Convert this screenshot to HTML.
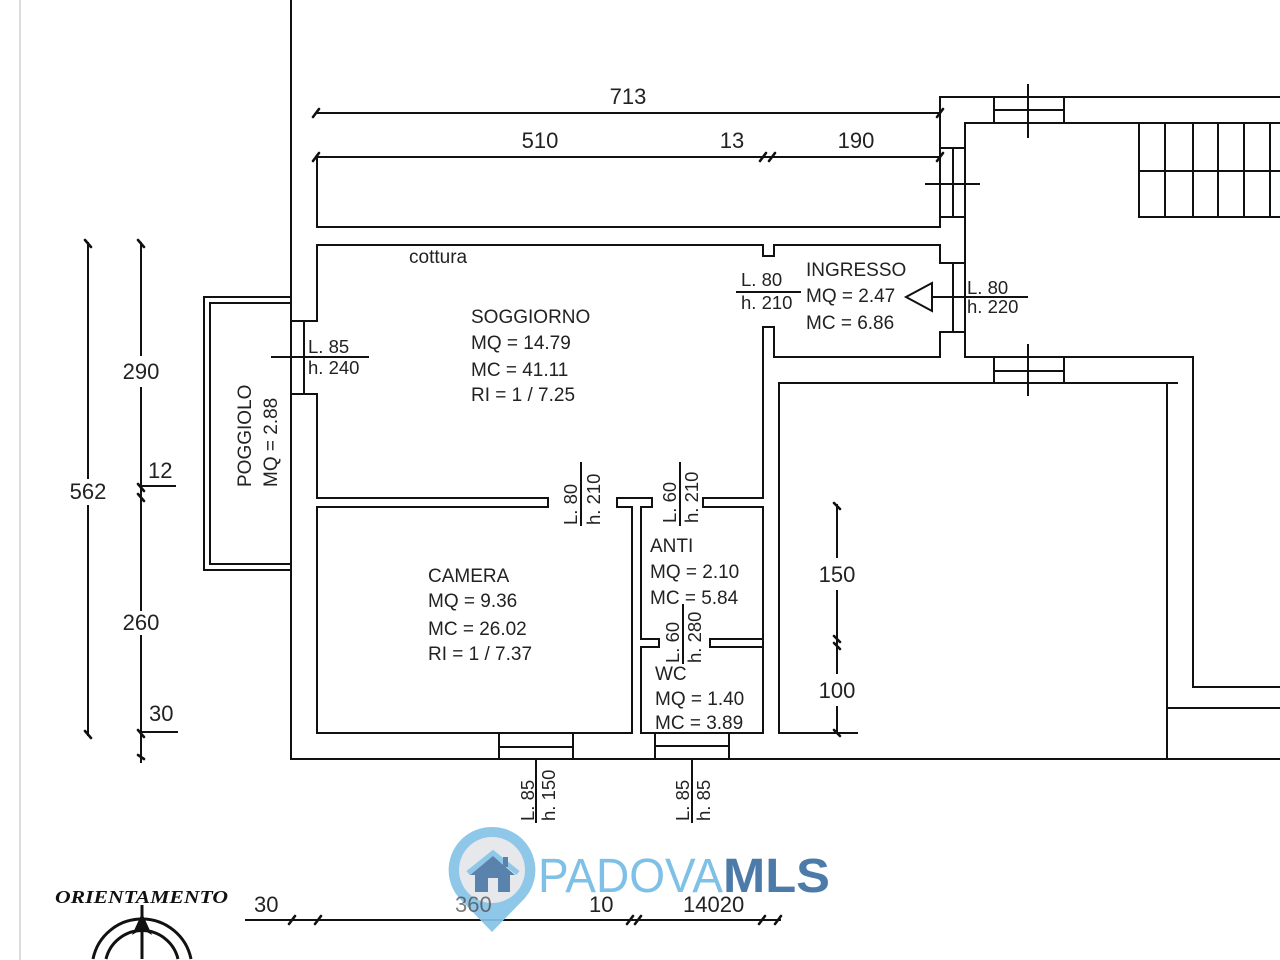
<!DOCTYPE html>
<html>
<head>
<meta charset="utf-8">
<style>
html,body{margin:0;padding:0;background:#fff;width:1280px;height:960px;overflow:hidden;}
svg{display:block;}
text{font-family:"Liberation Sans",sans-serif;fill:#222;}
</style>
</head>
<body>
<svg width="1280" height="960" viewBox="0 0 1280 960" xmlns="http://www.w3.org/2000/svg">
<rect width="1280" height="960" fill="#fff"/>
<line x1="20" y1="0" x2="20" y2="960" stroke="#dcdcdc" stroke-width="2"/>

<g stroke="#111" stroke-width="2" fill="none" stroke-linecap="square">
  <line x1="291" y1="0" x2="291" y2="759"/>
  <line x1="291" y1="759" x2="1280" y2="759"/>
  <line x1="316" y1="113" x2="940" y2="113"/>
  <line x1="316" y1="157" x2="940" y2="157"/>
  <polyline points="317,157 317,227 940,227"/>
  <line x1="940" y1="97" x2="940" y2="227"/>
  <line x1="940" y1="97" x2="1280" y2="97"/>
  <line x1="994" y1="97" x2="994" y2="123"/>
  <line x1="1064" y1="97" x2="1064" y2="123"/>
  <line x1="994" y1="110" x2="1064" y2="110"/>
  <line x1="1028" y1="85" x2="1028" y2="137"/>
  <line x1="965" y1="123" x2="1280" y2="123"/>
  <line x1="965" y1="123" x2="965" y2="357"/>
  <line x1="1139" y1="123" x2="1139" y2="217"/>
  <line x1="1139" y1="217" x2="1280" y2="217"/>
  <line x1="1139" y1="171" x2="1280" y2="171"/>
  <line x1="1165" y1="123" x2="1165" y2="217"/>
  <line x1="1193" y1="123" x2="1193" y2="217"/>
  <line x1="1218" y1="123" x2="1218" y2="217"/>
  <line x1="1244" y1="123" x2="1244" y2="217"/>
  <line x1="1270" y1="123" x2="1270" y2="217"/>
  <line x1="953" y1="148" x2="953" y2="217"/>
  <line x1="940" y1="148" x2="965" y2="148"/>
  <line x1="940" y1="217" x2="965" y2="217"/>
  <line x1="926" y1="184" x2="979" y2="184"/>
  <polyline points="317,321 317,245 763,245 763,256 774,256 774,245 940,245 940,263 965,263"/>
  <line x1="953" y1="263" x2="953" y2="332"/>
  <polyline points="965,332 940,332 940,357 774,357 774,327 763,327 763,498 703,498 703,507 763,507 763,733 641,733 641,647 659,647 659,639 641,639 641,507 652,507 652,498 617,498 617,507 632,507 632,733 317,733 317,507 548,507 548,498 317,498 317,394 291,394"/>
  <line x1="291" y1="321" x2="317" y2="321"/>
  <line x1="304" y1="321" x2="304" y2="394"/>
  <line x1="272" y1="357" x2="368" y2="357"/>
  <polyline points="763,639 710,639 710,647 763,647"/>
  <polyline points="857,733 779,733 779,383 1177,383"/>
  <line x1="1167" y1="383" x2="1167" y2="759"/>
  <line x1="965" y1="357" x2="1193" y2="357"/>
  <line x1="1193" y1="357" x2="1193" y2="687"/>
  <line x1="1193" y1="687" x2="1280" y2="687"/>
  <line x1="1167" y1="708" x2="1280" y2="708"/>
  <line x1="994" y1="357" x2="994" y2="383"/>
  <line x1="1064" y1="357" x2="1064" y2="383"/>
  <line x1="994" y1="371" x2="1064" y2="371"/>
  <line x1="1028" y1="345" x2="1028" y2="395"/>
  <line x1="499" y1="733" x2="499" y2="759"/>
  <line x1="573" y1="733" x2="573" y2="759"/>
  <line x1="499" y1="747" x2="573" y2="747"/>
  <line x1="536" y1="759" x2="536" y2="822"/>
  <line x1="655" y1="733" x2="655" y2="759"/>
  <line x1="729" y1="733" x2="729" y2="759"/>
  <line x1="655" y1="746" x2="729" y2="746"/>
  <line x1="692" y1="759" x2="692" y2="822"/>
  <polyline points="291,297 204,297 204,570 291,570"/>
  <polyline points="291,303 210,303 210,564 291,564"/>
  <line x1="737" y1="292" x2="800" y2="292"/>
  <line x1="932" y1="297" x2="1027" y2="297"/>
  <polygon points="932,283 906,297 932,311"/>
  <line x1="581" y1="463" x2="581" y2="525"/>
  <line x1="680" y1="463" x2="680" y2="525"/>
  <line x1="683" y1="605" x2="683" y2="663"/>
  <line x1="88" y1="243" x2="88" y2="478"/>
  <line x1="88" y1="506" x2="88" y2="735"/>
  <line x1="141" y1="243" x2="141" y2="355"/>
  <line x1="141" y1="388" x2="141" y2="610"/>
  <line x1="141" y1="636" x2="141" y2="762"/>
  <line x1="141" y1="486" x2="175" y2="486"/>
  <line x1="141" y1="732" x2="177" y2="732"/>
  <line x1="837" y1="505" x2="837" y2="557"/>
  <line x1="837" y1="591" x2="837" y2="673"/>
  <line x1="837" y1="707" x2="837" y2="733"/>
  <line x1="246" y1="920" x2="780" y2="920"/>
</g>

<g stroke="#111" stroke-width="2.6" stroke-linecap="round">
  <line x1="313" y1="117" x2="319" y2="109"/>
  <line x1="937" y1="117" x2="943" y2="109"/>
  <line x1="313" y1="161" x2="319" y2="153"/>
  <line x1="760" y1="161" x2="766" y2="153"/>
  <line x1="769" y1="161" x2="775" y2="153"/>
  <line x1="937" y1="161" x2="943" y2="153"/>
  <line x1="85" y1="240" x2="91" y2="247"/>
  <line x1="85" y1="731" x2="91" y2="738"/>
  <line x1="138" y1="240" x2="144" y2="247"/>
  <line x1="138" y1="484" x2="144" y2="491"/>
  <line x1="138" y1="494" x2="144" y2="501"/>
  <line x1="138" y1="730" x2="144" y2="737"/>
  <line x1="138" y1="755" x2="144" y2="759"/>
  <line x1="834" y1="503" x2="840" y2="509"/>
  <line x1="834" y1="636" x2="840" y2="642"/>
  <line x1="834" y1="643" x2="840" y2="649"/>
  <line x1="834" y1="730" x2="840" y2="736"/>
  <line x1="289" y1="924" x2="295" y2="916"/>
  <line x1="315" y1="924" x2="321" y2="916"/>
  <line x1="627" y1="924" x2="633" y2="916"/>
  <line x1="635" y1="924" x2="641" y2="916"/>
  <line x1="759" y1="924" x2="765" y2="916"/>
  <line x1="775" y1="924" x2="781" y2="916"/>
</g>

<g font-size="22">
  <text x="628" y="104" text-anchor="middle">713</text>
  <text x="540" y="148" text-anchor="middle">510</text>
  <text x="732" y="148" text-anchor="middle">13</text>
  <text x="856" y="148" text-anchor="middle">190</text>
  <text x="141" y="379" text-anchor="middle">290</text>
  <text x="88" y="499" text-anchor="middle">562</text>
  <text x="148" y="478">12</text>
  <text x="141" y="630" text-anchor="middle">260</text>
  <text x="149" y="721">30</text>
  <text x="837" y="582" text-anchor="middle">150</text>
  <text x="837" y="698" text-anchor="middle">100</text>
  <text x="254" y="912">30</text>
  <text x="589" y="912">10</text>
  <text x="683" y="912">14020</text>
</g>

<g font-size="19">
  <text x="409" y="263">cottura</text>
  <text x="471" y="323">SOGGIORNO</text>
  <text x="471" y="349">MQ = 14.79</text>
  <text x="471" y="376">MC = 41.11</text>
  <text x="471" y="401">RI = 1 / 7.25</text>
  <text x="806" y="276">INGRESSO</text>
  <text x="806" y="302">MQ = 2.47</text>
  <text x="806" y="329">MC = 6.86</text>
  <text x="428" y="582">CAMERA</text>
  <text x="428" y="607">MQ = 9.36</text>
  <text x="428" y="635">MC = 26.02</text>
  <text x="428" y="660">RI = 1 / 7.37</text>
  <text x="650" y="552">ANTI</text>
  <text x="650" y="578">MQ = 2.10</text>
  <text x="650" y="604">MC = 5.84</text>
  <text x="655" y="680">WC</text>
  <text x="655" y="705">MQ = 1.40</text>
  <text x="655" y="729">MC = 3.89</text>
  <text transform="translate(251,487) rotate(-90)">POGGIOLO</text>
  <text transform="translate(277,487) rotate(-90)">MQ = 2.88</text>
</g>

<g font-size="18.5">
  <text x="308" y="353">L. 85</text>
  <text x="308" y="374">h. 240</text>
  <text x="741" y="286">L. 80</text>
  <text x="741" y="309">h. 210</text>
  <text x="967" y="294">L. 80</text>
  <text x="967" y="313">h. 220</text>
  <text transform="translate(577,525) rotate(-90)">L. 80</text>
  <text transform="translate(600,525) rotate(-90)">h. 210</text>
  <text transform="translate(676,523) rotate(-90)">L. 60</text>
  <text transform="translate(698,523) rotate(-90)">h. 210</text>
  <text transform="translate(679,663) rotate(-90)">L. 60</text>
  <text transform="translate(701,663) rotate(-90)">h. 280</text>
  <text transform="translate(534,821) rotate(-90)">L. 85</text>
  <text transform="translate(555,821) rotate(-90)">h. 150</text>
  <text transform="translate(689,821) rotate(-90)">L. 85</text>
  <text transform="translate(710,821) rotate(-90)">h. 85</text>
</g>

<text x="55" y="903" style="font-family:'Liberation Serif',serif;font-weight:bold;font-style:italic;fill:#111;" font-size="18" textLength="173" lengthAdjust="spacingAndGlyphs">ORIENTAMENTO</text>
<g stroke="#111" stroke-width="3" fill="none">
  <path d="M93,959 A50,50 0 0 1 191,959"/>
  <path d="M106,959 A37,37 0 0 1 178,959"/>
  <line x1="142" y1="905" x2="142" y2="959"/>
</g>
<path d="M142,913 L152,935 L142,929 L132,935 Z" fill="#111"/>

<g opacity="0.92">
  <path d="M492,827 A43,43 0 0 1 525,898 L492,932 L459,898 A43,43 0 0 1 492,827 Z" fill="#86c3e8"/>
  <circle cx="492" cy="870" r="33" fill="#e4e7ea"/>
  <polyline points="468,873 493,853 518,873" fill="none" stroke="#86c3e8" stroke-width="5"/>
  <path d="M493,856 L515,875 L510,875 L510,892 L475,892 L475,875 L470,875 Z" fill="#4b79a7"/>
  <rect x="503" y="857" width="5" height="10" fill="#4b79a7"/>
  <rect x="488" y="878" width="10" height="14" fill="#e4e7ea"/>
</g>
<text x="455" y="912" font-size="22" style="fill:#444;opacity:0.7;">360</text>
<text x="538" y="892" font-size="48" style="fill:#7fc0e6;" textLength="185" lengthAdjust="spacingAndGlyphs">PADOVA</text>
<text x="723" y="892" font-size="48" style="fill:#4d7ba9;font-weight:bold;" textLength="107" lengthAdjust="spacingAndGlyphs">MLS</text>
</svg>
</body>
</html>
